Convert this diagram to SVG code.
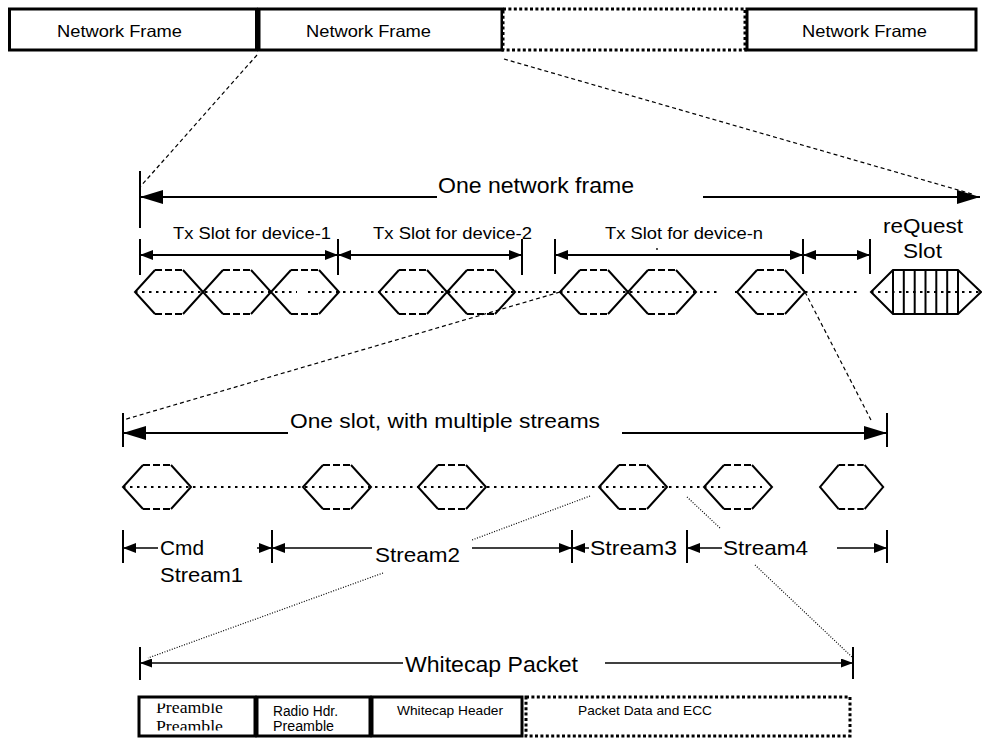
<svg xmlns="http://www.w3.org/2000/svg" xmlns:xlink="http://www.w3.org/1999/xlink" width="982" height="738" viewBox="0 0 982 738">
<style>
  .box { fill: #fff; stroke: #000; stroke-width: 3; }
  .dotbox { fill: #fff; stroke: #000; stroke-width: 3; stroke-dasharray: 3 2.4; }
  .t { font-family: "Liberation Sans", Arial, sans-serif; fill: #000; }
  .serif { font-family: "Liberation Serif", "Times New Roman", serif; fill: #000; }
  .ln { stroke: #000; stroke-width: 2; fill: none; }
  .ln15 { stroke: #000; stroke-width: 1.5; fill: none; }
  .tick { stroke: #000; stroke-width: 2; }
  .dash { stroke: #000; stroke-width: 1.2; stroke-dasharray: 4 3; fill: none; }
  .fdot { stroke: #000; stroke-width: 1.2; stroke-dasharray: 1 1.6; fill: none; }
  .center { stroke: #000; stroke-width: 2; stroke-dasharray: 2.5 4.5; fill: none; }
  .hexside { stroke: #000; stroke-width: 2; fill: none; }
  .hexdash { stroke: #000; stroke-width: 2; stroke-dasharray: 7 3; fill: none; }
</style>
<defs>
  <marker id="bigHead" viewBox="0 0 23 14" refX="23" refY="7" markerWidth="23" markerHeight="14" markerUnits="userSpaceOnUse" orient="auto-start-reverse">
    <path d="M0,0 L23,7 L0,14 z" fill="#000"/>
  </marker>
  <marker id="midHead" viewBox="0 0 13 10" refX="13" refY="5" markerWidth="13" markerHeight="10" markerUnits="userSpaceOnUse" orient="auto-start-reverse">
    <path d="M0,0 L13,5 L0,10 z" fill="#000"/>
  </marker>
  <marker id="smallHead" viewBox="0 0 12 9" refX="12" refY="4.5" markerWidth="12" markerHeight="9" markerUnits="userSpaceOnUse" orient="auto-start-reverse">
    <path d="M0,0 L12,4.5 L0,9 z" fill="#000"/>
  </marker>
  <g id="hex">
    <path class="hexside" d="M20,-22 L0,0 L20,22 M48,-22 L68,0 L48,22"/>
    <path class="hexdash" d="M20,-22 H48 M20,22 H48"/>
  </g>
  <clipPath id="preClip">
    <rect x="141" y="703.5" width="112" height="27"/>
  </clipPath>
</defs>

<!-- Top bar of network frames -->
<g id="frame1">
  <rect class="box" x="9.5" y="9" width="247" height="41"/>
  <text class="t" x="57" y="37" font-size="16.5" textLength="125" lengthAdjust="spacingAndGlyphs">Network Frame</text>
</g>
<g id="frame2">
  <rect class="box" x="259" y="9" width="243" height="41"/>
  <text class="t" x="306" y="37" font-size="16.5" textLength="125" lengthAdjust="spacingAndGlyphs">Network Frame</text>
</g>
<g id="frameGap">
  <rect class="dotbox" x="503" y="9" width="242" height="41"/>
</g>
<g id="frame4">
  <rect class="box" x="747" y="9" width="229" height="41"/>
  <text class="t" x="802" y="37" font-size="16.5" textLength="125" lengthAdjust="spacingAndGlyphs">Network Frame</text>
</g>

<!-- Network frame expansion -->
<g id="networkFrameDim">
  <line class="tick" x1="140" y1="171" x2="140" y2="228"/>
  <line class="ln" x1="140" y1="197" x2="437" y2="197" marker-start="url(#bigHead)"/>
  <line class="ln" x1="703" y1="197" x2="980" y2="197" marker-end="url(#bigHead)"/>
  <text class="t" x="438" y="193" font-size="22" textLength="196" lengthAdjust="spacingAndGlyphs">One network frame</text>
</g>

<g id="txSlotDims">
  <line class="tick" x1="140" y1="239" x2="140" y2="275"/>
  <line class="tick" x1="338" y1="239" x2="338" y2="275"/>
  <line class="tick" x1="522" y1="239" x2="522" y2="275"/>
  <line class="tick" x1="555" y1="239" x2="555" y2="274"/>
  <line class="tick" x1="803" y1="239" x2="803" y2="274"/>
  <line class="tick" x1="870" y1="239" x2="870" y2="274"/>
  <line class="ln" x1="140" y1="255" x2="338" y2="255" marker-start="url(#midHead)" marker-end="url(#midHead)"/>
  <line class="ln" x1="338" y1="255" x2="522" y2="255" marker-start="url(#midHead)" marker-end="url(#midHead)"/>
  <line class="ln" x1="555" y1="255" x2="803" y2="255" marker-start="url(#midHead)" marker-end="url(#midHead)"/>
  <line class="ln" x1="803" y1="255" x2="870" y2="255" marker-start="url(#midHead)" marker-end="url(#midHead)"/>
  <text class="t" x="173" y="239" font-size="16" textLength="158" lengthAdjust="spacingAndGlyphs">Tx Slot for device-1</text>
  <text class="t" x="373" y="239" font-size="16" textLength="159" lengthAdjust="spacingAndGlyphs">Tx Slot for device-2</text>
  <text class="t" x="605" y="239" font-size="16" textLength="158" lengthAdjust="spacingAndGlyphs">Tx Slot for device-n</text>
  <circle cx="657" cy="249" r="0.9" fill="#000"/>
  <text class="t" x="883" y="233" font-size="20" textLength="80" lengthAdjust="spacingAndGlyphs">reQuest</text>
  <text class="t" x="903" y="258" font-size="20" textLength="39" lengthAdjust="spacingAndGlyphs">Slot</text>
</g>

<!-- Slot row -->
<g id="slotRow">
  <path class="center" d="M135,292 H297 M308,292 H717 M735,292 H860 M871,292 H981"/>
  <use xlink:href="#hex" x="135" y="292"/>
  <use xlink:href="#hex" x="203" y="292"/>
  <use xlink:href="#hex" x="271" y="292"/>
  <use xlink:href="#hex" x="379" y="292"/>
  <use xlink:href="#hex" x="447" y="292"/>
  <use xlink:href="#hex" x="560" y="292"/>
  <use xlink:href="#hex" x="628" y="292"/>
  <use xlink:href="#hex" x="737" y="292"/>
</g>
<g id="requestSlot">
  <path class="hexside" d="M893,270 L871,292 L893,314 H958 L981,292 L958,270 Z"/>
  <path class="hexside" d="M893,270 V314 M903.8,270 V314 M914.7,270 V314 M925.5,270 V314 M936.3,270 V314 M947.2,270 V314 M958,270 V314"/>
</g>

<!-- One slot expansion -->
<g id="slotDim">
  <line class="tick" x1="123" y1="413" x2="123" y2="447"/>
  <line class="tick" x1="887" y1="413" x2="887" y2="447"/>
  <line class="ln" x1="123" y1="433" x2="288" y2="433" marker-start="url(#bigHead)"/>
  <line class="ln" x1="622" y1="433" x2="887" y2="433" marker-end="url(#bigHead)"/>
  <text class="t" x="290" y="428" font-size="21" textLength="310" lengthAdjust="spacingAndGlyphs">One slot, with multiple streams</text>
</g>

<g id="streamRow">
  <path class="center" d="M123,487 H762"/>
  <use xlink:href="#hex" x="123" y="487"/>
  <use xlink:href="#hex" x="303" y="487"/>
  <use xlink:href="#hex" x="418" y="487"/>
  <use xlink:href="#hex" x="599" y="487"/>
  <use xlink:href="#hex" x="704" y="487"/>
  <g transform="translate(820,487) scale(0.93,1)">
    <use xlink:href="#hex" x="0" y="0"/>
  </g>
</g>

<g id="streamDims">
  <line class="tick" x1="123" y1="530" x2="123" y2="563"/>
  <line class="tick" x1="272" y1="530" x2="272" y2="563"/>
  <line class="tick" x1="572" y1="530" x2="572" y2="563"/>
  <line class="tick" x1="687" y1="530" x2="687" y2="563"/>
  <line class="tick" x1="887" y1="530" x2="887" y2="563"/>
  <line class="ln15" x1="123" y1="548" x2="158" y2="548" marker-start="url(#midHead)"/>
  <line class="ln15" x1="257" y1="548" x2="272" y2="548" marker-end="url(#midHead)"/>
  <line class="ln15" x1="272" y1="548" x2="372" y2="548" marker-start="url(#midHead)"/>
  <line class="ln15" x1="472" y1="548" x2="572" y2="548" marker-end="url(#midHead)"/>
  <line class="ln15" x1="572" y1="548" x2="589" y2="548" marker-start="url(#midHead)"/>
  <line class="ln15" x1="687" y1="548" x2="722" y2="548" marker-start="url(#midHead)"/>
  <line class="ln15" x1="837" y1="548" x2="887" y2="548" marker-end="url(#midHead)"/>
  <text class="t" x="160" y="555" font-size="21" textLength="44" lengthAdjust="spacingAndGlyphs">Cmd</text>
  <text class="t" x="160" y="582" font-size="21" textLength="83" lengthAdjust="spacingAndGlyphs">Stream1</text>
  <text class="t" x="375" y="562" font-size="21" textLength="85" lengthAdjust="spacingAndGlyphs">Stream2</text>
  <text class="t" x="590" y="555" font-size="21" textLength="87" lengthAdjust="spacingAndGlyphs">Stream3</text>
  <text class="t" x="723" y="555" font-size="21" textLength="85" lengthAdjust="spacingAndGlyphs">Stream4</text>
</g>

<!-- Whitecap packet -->
<g id="packetDim">
  <line class="tick" x1="140" y1="647" x2="140" y2="680"/>
  <line class="tick" x1="853" y1="647" x2="853" y2="679"/>
  <line class="ln15" x1="140" y1="663" x2="403" y2="663" marker-start="url(#smallHead)"/>
  <line class="ln15" x1="605" y1="663" x2="853" y2="663" marker-end="url(#smallHead)"/>
  <text class="t" x="405" y="672" font-size="22" textLength="173" lengthAdjust="spacingAndGlyphs">Whitecap Packet</text>
</g>

<g id="preambleBox">
  <rect class="box" x="139" y="697" width="116" height="39"/>
  <g clip-path="url(#preClip)">
    <text class="serif" x="156" y="713" font-size="17" textLength="67" lengthAdjust="spacingAndGlyphs">Preamble</text>
    <text class="serif" x="156" y="731.5" font-size="17" textLength="67" lengthAdjust="spacingAndGlyphs">Preamble</text>
  </g>
</g>
<g id="radioHdrBox">
  <rect class="box" x="257" y="697" width="113" height="39"/>
  <text class="t" x="273" y="716" font-size="14" textLength="65" lengthAdjust="spacingAndGlyphs">Radio Hdr.</text>
  <text class="t" x="273" y="731" font-size="14" textLength="61" lengthAdjust="spacingAndGlyphs">Preamble</text>
</g>
<g id="whitecapHeaderBox">
  <rect class="box" x="372" y="697" width="150" height="39"/>
  <text class="t" x="397" y="715" font-size="13.5" textLength="106" lengthAdjust="spacingAndGlyphs">Whitecap Header</text>
</g>
<g id="packetDataBox">
  <rect class="dotbox" x="526" y="697" width="324" height="39"/>
  <text class="t" x="578" y="715" font-size="13.5" textLength="134" lengthAdjust="spacingAndGlyphs">Packet Data and ECC</text>
</g>

<!-- Connectors (zoom lines) -->
<g id="connectors">
  <line class="dash" x1="257" y1="55" x2="140" y2="187"/>
  <line class="dash" x1="504" y1="59" x2="972" y2="194"/>
  <line class="dash" x1="560" y1="292" x2="123" y2="420"/>
  <line class="dash" x1="805" y1="292" x2="872" y2="422"/>
  <path class="fdot" d="M590,496 L472,540 M383,573 L148,658"/>
  <path class="fdot" d="M687,497 L720,528 M755,565 L852,657"/>
</g>
</svg>
